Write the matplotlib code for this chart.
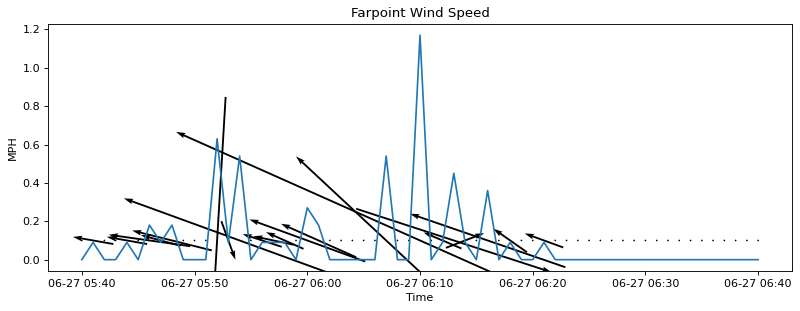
import numpy as np
import pandas as pd
import matplotlib
matplotlib.use("Agg")
from matplotlib import pyplot as plt
import matplotlib.dates as mdates

# one reading per minute, 05:40 -> 06:40
times = pd.date_range("2023-06-27 05:40", periods=61, freq="min")

speed = [
    0.0, 0.09, 0.0, 0.0, 0.09, 0.0, 0.18, 0.09, 0.18, 0.0,
    0.0, 0.0, 0.63, 0.09, 0.54, 0.0, 0.09, 0.09, 0.09, 0.0,
    0.27, 0.18, 0.0, 0.0, 0.0, 0.0, 0.0, 0.54, 0.0, 0.0,
    1.17, 0.0, 0.09, 0.45, 0.09, 0.0, 0.36, 0.0, 0.09, 0.0,
    0.0, 0.09, 0.0, 0.0, 0.0, 0.0, 0.0, 0.0, 0.0, 0.0,
    0.0, 0.0, 0.0, 0.0, 0.0, 0.0, 0.0, 0.0, 0.0, 0.0,
    0.0,
]

# arrow direction in degrees (counter-clockwise from east)
direction = [
    0, 170, 0, 0, 170, 0, 172, 165, 166, 0,
    0, 0, 266.6, 290, 160, 0, 162, 168, 156, 0,
    160, 156, 0, 0, 0, 0, 0, 137, 0, 0,
    156, 0, 157, 342, 21, 0, 161, 0, 145, 0,
    0, 160, 0, 0, 0, 0, 0, 0, 0, 0,
    0, 0, 0, 0, 0, 0, 0, 0, 0, 0,
    0,
]


def plot_wind():
    spd = np.array(speed)
    rad = np.radians(direction)
    u = spd * np.cos(rad)
    v = spd * np.sin(rad)

    fig, ax = plt.subplots(figsize=(10, 3.8875), dpi=80)
    fig.subplots_adjust(left=0.06, right=0.99, bottom=0.129, top=0.923)

    ax.plot(times, spd, color="#1f77b4", linewidth=1.5)
    ax.quiver(mdates.date2num(times), np.full(len(spd), 0.1), u, v,
              pivot="mid", scale=1.63, width=0.0025, color="black")

    ax.xaxis.set_major_locator(mdates.MinuteLocator(byminute=range(0, 60, 10)))
    ax.xaxis.set_major_formatter(mdates.DateFormatter("%m-%d %H:%M"))

    ax.set_title("Farpoint Wind Speed")
    ax.set_xlabel("Time")
    ax.set_ylabel("MPH")
    fig.savefig("out.png", dpi=80)


if __name__ == "__main__":
    plot_wind()
